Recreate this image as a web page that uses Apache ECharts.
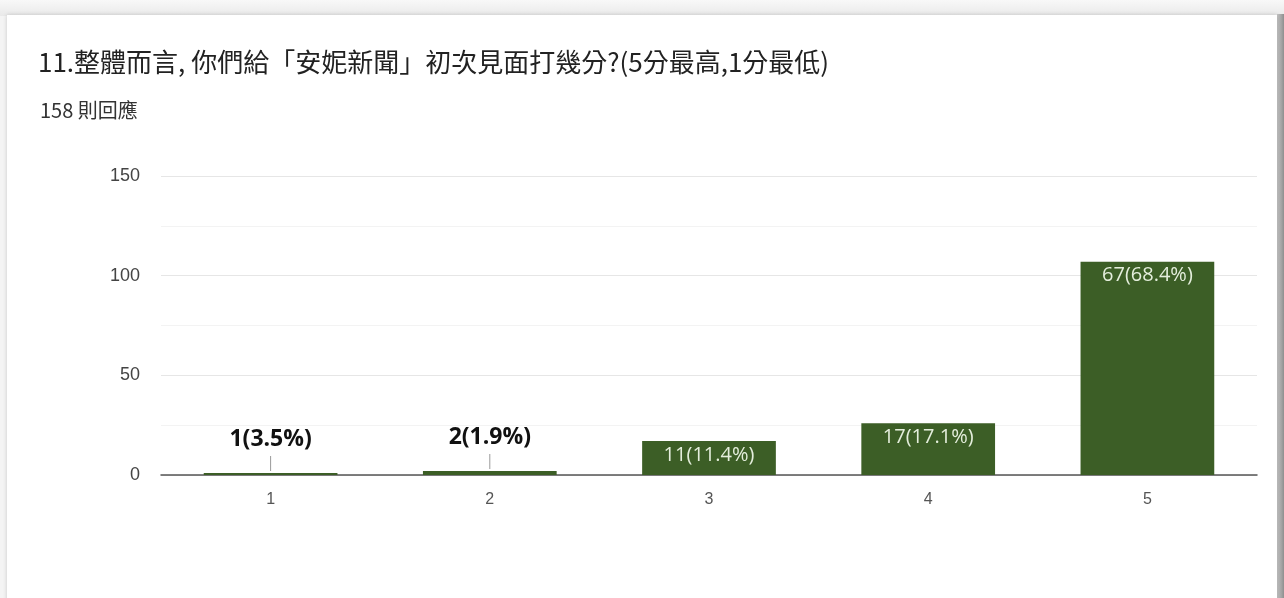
<!DOCTYPE html>
<html>
<head>
<meta charset="utf-8">
<script src="https://cdn.jsdelivr.net/npm/echarts@6/dist/echarts.min.js"></script>
<style>
  html, body { margin:0; padding:0; width:1284px; height:598px; overflow:hidden; background:#f4f4f4; }
  #topband { position:absolute; left:0; top:0; width:1284px; height:16px; background:linear-gradient(#f8f8f8,#e9e9e9); }
  #rightband { position:absolute; right:0; top:14px; width:7px; height:584px; background:linear-gradient(90deg,#c8c8c8,#8f8f8f); }
  #card { position:absolute; left:7px; top:15px; width:1270px; height:590px; background:#fff; box-shadow:0 0 4px rgba(0,0,0,0.18); }
  #chart { position:absolute; left:0; top:0; width:1284px; height:598px; }
</style>
</head>
<body>
<div id="topband"></div>
<div id="rightband"></div>
<div id="card"></div>
<div id="chart"></div>
<script>
const titleText = '11.整體而言, 你們給「安妮新聞」初次見面打幾分?(5分最高,1分最低)';
const subtitleText = '158 則回應';
const categories = ['1', '2', '3', '4', '5'];
const counts = [1, 2, 17, 26, 107];
const barLabels = ['1(3.5%)', '2(1.9%)', '11(11.4%)', '17(17.1%)', '67(68.4%)'];
const outsideLabel = [true, true, false, false, false];
const yTicks = [0, 50, 100, 150];

const chart = echarts.init(document.getElementById('chart'), null, { renderer: 'canvas' });
const data = counts.map((v, i) => ({
  value: v,
  label: outsideLabel[i]
    ? {
        show: true, position: 'top', distance: 2,
        formatter: '{t|' + barLabels[i] + '}\n{l|}',
        rich: {
          t: { color: '#111', fontSize: 23, fontWeight: 'bold', fontFamily: 'Open Sans, Noto Sans, sans-serif', lineHeight: 30, padding: [0, 0, 4, 0] },
          l: { width: 1, height: 15, backgroundColor: '#9a9a9a' }
        }
      }
    : { show: true, position: 'insideTop', distance: 4, formatter: barLabels[i], color: '#e4eedc', fontSize: 20, fontFamily: 'Open Sans, Noto Sans, sans-serif' }
}));

chart.setOption({
  animation: false,
  title: [
    { text: titleText, left: 33, top: 44, textStyle: { fontSize: 26, fontWeight: 'normal', color: '#222', fontFamily: 'Noto Sans CJK TC, sans-serif' } },
    { text: subtitleText, left: 35, top: 95, textStyle: { fontSize: 20, fontWeight: 'normal', color: '#333', fontFamily: 'Noto Sans CJK TC, sans-serif' } }
  ],
  grid: { left: 161, right: 27, top: 176, bottom: 123 },
  xAxis: {
    type: 'category',
    data: categories,
    axisLine: { lineStyle: { color: '#555', width: 1.5 } },
    axisTick: { show: false },
    axisLabel: { color: '#555', fontSize: 16, margin: 17, fontFamily: 'Liberation Sans, Arial, sans-serif' }
  },
  yAxis: {
    type: 'value',
    min: yTicks[0],
    max: yTicks[yTicks.length - 1],
    interval: 50,
    axisLine: { show: false },
    axisTick: { show: false },
    axisLabel: { color: '#444', fontSize: 18, margin: 21, fontFamily: 'Liberation Sans, Arial, sans-serif' },
    splitLine: { lineStyle: { color: '#e6e6e6', width: 1 } },
    minorTick: { show: false, splitNumber: 2 },
    minorSplitLine: { show: true, lineStyle: { color: '#f3f3f3', width: 1 } }
  },
  series: [{
    type: 'bar',
    data: data,
    barWidth: '61%',
    itemStyle: { color: '#3c5e26' }
  }]
});
</script>
</body>
</html>
